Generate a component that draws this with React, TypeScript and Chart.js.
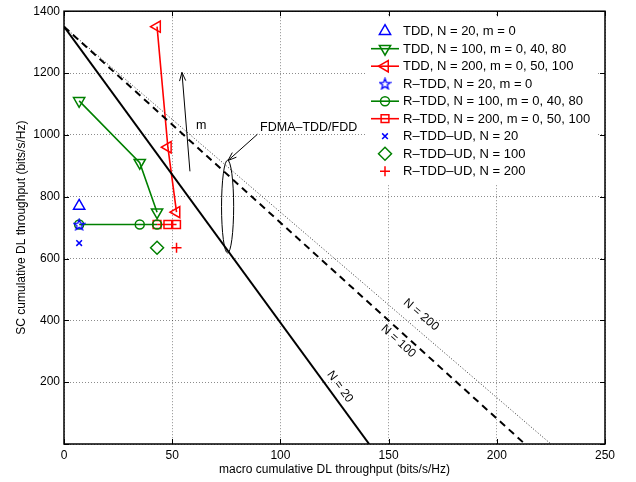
import React, { useEffect, useRef } from 'react';
import { Chart, registerables } from 'chart.js';
import { drawPoint } from 'chart.js/helpers';

Chart.register(...registerables);

const FONT = '"Liberation Sans", Arial, Helvetica, sans-serif';

// ---- axes ----
const xTicks = [0, 50, 100, 150, 200, 250];
const yTicks = [0, 200, 400, 600, 800, 1000, 1200, 1400];
const xTitle = 'macro cumulative DL throughput (bits/s/Hz)';
const yTitle = 'SC cumulative DL throughput (bits/s/Hz)';

// ---- FDMA-TDD/FDD reference lines (macro, SC) ----
const fdmaN20X = [0, 141];
const fdmaN20Y = [1350, 0];
const fdmaN100X = [0, 213];
const fdmaN100Y = [1350, 0];
const fdmaN200X = [0, 225];
const fdmaN200Y = [1350, 0];

// ---- TDD ----
const tddN20X = [7];
const tddN20Y = [770];
const tddN100X = [7, 35, 43];
const tddN100Y = [1110, 910, 750];
const tddN200X = [43, 48, 52];
const tddN200Y = [1350, 960, 750];

// ---- R-TDD ----
const rtddN20X = [7];
const rtddN20Y = [710];
const rtddN100X = [7, 35, 43];
const rtddN100Y = [710, 710, 710];
const rtddN200X = [43, 48, 52];
const rtddN200Y = [710, 710, 710];

// ---- R-TDD-UD ----
const rtddUdN20X = [7];
const rtddUdN20Y = [650];
const rtddUdN100X = [43];
const rtddUdN100Y = [635];
const rtddUdN200X = [52];
const rtddUdN200Y = [635];

const legendLabels = [
  'TDD, N = 20, m = 0',
  'TDD, N = 100, m = 0, 40, 80',
  'TDD, N = 200, m = 0, 50, 100',
  'R\u2013TDD, N = 20, m = 0',
  'R\u2013TDD, N = 100, m = 0, 40, 80',
  'R\u2013TDD, N = 200, m = 0, 50, 100',
  'R\u2013TDD\u2013UD, N = 20',
  'R\u2013TDD\u2013UD, N = 100',
  'R\u2013TDD\u2013UD, N = 200',
];

const lineLabels = ['N = 20', 'N = 100', 'N = 200'];
const annotationM = 'm';
const annotationFdma = 'FDMA\u2013TDD/FDD';

const BLUE = '#0000ff';
const GREEN = '#008000';
const RED = '#ff0000';

function makeStar(color: string, size = 13) {
  const c = document.createElement('canvas');
  c.width = size;
  c.height = size;
  const ctx = c.getContext('2d')!;
  const cx = size / 2;
  const cy = size / 2 + 0.5;
  const R = size / 2 - 0.8;
  const r = R * 0.42;
  ctx.beginPath();
  for (let i = 0; i < 10; i++) {
    const a = -Math.PI / 2 + (i * Math.PI) / 5;
    const rad = i % 2 === 0 ? R : r;
    ctx.lineTo(cx + rad * Math.cos(a), cy + rad * Math.sin(a));
  }
  ctx.closePath();
  ctx.strokeStyle = color;
  ctx.lineWidth = 1.3;
  ctx.stroke();
  return c;
}

const pts = (xs: number[], ys: number[]) => xs.map((x, i) => ({ x, y: ys[i] }));

function series(
  label: string,
  xs: number[],
  ys: number[],
  color: string,
  pointStyle: any,
  rotation: number,
  radius: number,
  showLine: boolean
) {
  return {
    label,
    data: pts(xs, ys),
    borderColor: color,
    backgroundColor: 'rgba(0,0,0,0)',
    pointStyle,
    pointRotation: rotation,
    pointRadius: radius,
    pointHoverRadius: radius,
    pointBorderColor: color,
    pointBackgroundColor: 'rgba(0,0,0,0)',
    pointBorderWidth: 1.5,
    showLine,
    borderWidth: 1.6,
    inLegend: true,
  } as any;
}

function refLine(xs: number[], ys: number[], width: number, dash: number[], color: string) {
  return {
    label: '',
    data: pts(xs, ys),
    borderColor: color,
    borderWidth: width,
    borderDash: dash,
    pointRadius: 0,
    showLine: true,
    inLegend: false,
  } as any;
}

function arrow(ctx: CanvasRenderingContext2D, x0: number, y0: number, x1: number, y1: number, head = 9) {
  ctx.beginPath();
  ctx.moveTo(x0, y0);
  ctx.lineTo(x1, y1);
  const a = Math.atan2(y1 - y0, x1 - x0);
  const s = 0.35;
  ctx.moveTo(x1 - head * Math.cos(a - s), y1 - head * Math.sin(a - s));
  ctx.lineTo(x1, y1);
  ctx.lineTo(x1 - head * Math.cos(a + s), y1 - head * Math.sin(a + s));
  ctx.stroke();
}

const annotationsPlugin = {
  id: 'annotations',
  afterDatasetsDraw(chart: any) {
    const { ctx, chartArea } = chart;
    const xs = chart.scales.x;
    const ys = chart.scales.y;
    const px = (v: number) => xs.getPixelForValue(v);
    const py = (v: number) => ys.getPixelForValue(v);
    ctx.save();

    // inward ticks
    ctx.strokeStyle = '#000';
    ctx.lineWidth = 1;
    ctx.setLineDash([]);
    ctx.beginPath();
    xTicks.forEach((t) => {
      const x = Math.round(px(t)) + 0.5;
      ctx.moveTo(x, chartArea.bottom);
      ctx.lineTo(x, chartArea.bottom - 5);
      ctx.moveTo(x, chartArea.top);
      ctx.lineTo(x, chartArea.top + 5);
    });
    yTicks.forEach((t) => {
      const y = Math.round(py(t)) + 0.5;
      ctx.moveTo(chartArea.left, y);
      ctx.lineTo(chartArea.left + 5, y);
      ctx.moveTo(chartArea.right, y);
      ctx.lineTo(chartArea.right - 5, y);
    });
    ctx.stroke();

    // rotated labels on reference lines
    ctx.fillStyle = '#000';
    ctx.font = `12px ${FONT}`;
    ctx.textAlign = 'center';
    ctx.textBaseline = 'middle';
    const refs = [
      { xs: fdmaN20X, ys: fdmaN20Y, at: [127.5, 185] },
      { xs: fdmaN100X, ys: fdmaN100Y, at: [154.5, 332] },
      { xs: fdmaN200X, ys: fdmaN200Y, at: [165, 418] },
    ];
    refs.forEach((r, i) => {
      const ang = Math.atan2(py(r.ys[1]) - py(r.ys[0]), px(r.xs[1]) - px(r.xs[0]));
      ctx.save();
      ctx.translate(px(r.at[0]), py(r.at[1]));
      ctx.rotate(ang);
      ctx.fillText(lineLabels[i], 0, 0);
      ctx.restore();
    });

    // arrow "m"
    ctx.lineWidth = 1;
    ctx.strokeStyle = '#000';
    arrow(ctx, px(58.2), py(882), px(54.5), py(1202), 9);
    ctx.textAlign = 'left';
    ctx.font = `12.5px ${FONT}`;
    ctx.fillText(annotationM, px(61), py(1030));

    // ellipse
    const ex = px(75.6);
    const ey = py(768);
    const rx = Math.abs(px(75.6 + 2.8) - ex);
    const ry = Math.abs(py(768 + 150) - ey);
    ctx.beginPath();
    ctx.ellipse(ex, ey, rx, ry, 0, 0, Math.PI * 2);
    ctx.stroke();

    // FDMA label + arrow
    ctx.fillText(annotationFdma, px(90.6), py(1024));
    arrow(ctx, px(89.4), py(1002), px(75.8), py(917), 9);

    // frame
    ctx.lineWidth = 1.5;
    ctx.strokeRect(chartArea.left, chartArea.top, chartArea.right - chartArea.left, chartArea.bottom - chartArea.top);
    ctx.restore();
  },
  afterDraw(chart: any) {
    const { ctx, chartArea } = chart;
    const items = chart.data.datasets.filter((d: any) => d.inLegend);
    const boxRight = chartArea.right - 9;
    const boxLeft = boxRight - 230;
    const boxTop = chartArea.top + 6;
    const rowH = 17.5;
    const boxBottom = boxTop + 10 + rowH * items.length;
    ctx.save();
    ctx.fillStyle = '#fff';
    ctx.fillRect(boxLeft, boxTop, boxRight - boxLeft, boxBottom - boxTop);
    ctx.font = `13px ${FONT}`;
    ctx.textAlign = 'left';
    ctx.textBaseline = 'middle';
    items.forEach((d: any, i: number) => {
      const y = boxTop + 14 + i * rowH;
      const l0 = boxLeft + 5;
      const l1 = boxLeft + 33;
      const mx = (l0 + l1) / 2;
      ctx.setLineDash([]);
      if (d.showLine) {
        ctx.strokeStyle = d.borderColor;
        ctx.lineWidth = d.borderWidth;
        ctx.beginPath();
        ctx.moveTo(l0, y);
        ctx.lineTo(l1, y);
        ctx.stroke();
      }
      ctx.strokeStyle = d.pointBorderColor;
      ctx.fillStyle = 'rgba(0,0,0,0)';
      ctx.lineWidth = d.pointBorderWidth;
      drawPoint(ctx, { pointStyle: d.pointStyle, rotation: d.pointRotation, radius: d.pointRadius, borderWidth: d.pointBorderWidth } as any, mx, y);
      ctx.fillStyle = '#000';
      ctx.fillText(d.label, l1 + 4, y + 0.5);
    });
    ctx.restore();
  },
};

export default function App() {
  const ref = useRef<HTMLCanvasElement | null>(null);
  useEffect(() => {
    if (!ref.current) return;
    Chart.defaults.font.family = FONT;
    Chart.defaults.color = '#000';
    const star = makeStar(BLUE, 13);
    const datasets = [
      refLine(fdmaN20X, fdmaN20Y, 2, [], '#000'),
      refLine(fdmaN100X, fdmaN100Y, 2, [7, 5], '#000'),
      refLine(fdmaN200X, fdmaN200Y, 1, [1, 2], '#333'),
      series(legendLabels[0], tddN20X, tddN20Y, BLUE, 'triangle', 0, 6.5, false),
      series(legendLabels[1], tddN100X, tddN100Y, GREEN, 'triangle', 180, 6.5, true),
      series(legendLabels[2], tddN200X, tddN200Y, RED, 'triangle', 270, 6.5, true),
      series(legendLabels[3], rtddN20X, rtddN20Y, BLUE, star, 0, 6, false),
      series(legendLabels[4], rtddN100X, rtddN100Y, GREEN, 'circle', 0, 4.5, true),
      series(legendLabels[5], rtddN200X, rtddN200Y, RED, 'rect', 0, 5.5, true),
      series(legendLabels[6], rtddUdN20X, rtddUdN20Y, BLUE, 'crossRot', 0, 4, false),
      series(legendLabels[7], rtddUdN100X, rtddUdN100Y, GREEN, 'rectRot', 0, 6.5, false),
      series(legendLabels[8], rtddUdN200X, rtddUdN200Y, RED, 'cross', 0, 5, false),
    ];
    const chart = new Chart(ref.current, {
      type: 'scatter',
      data: { datasets },
      options: {
        animation: false,
        responsive: false,
        devicePixelRatio: 1,
        layout: { padding: { top: 6, right: 31, left: 0, bottom: 0 } },
        plugins: { legend: { display: false }, tooltip: { enabled: false } },
        scales: {
          x: {
            type: 'linear',
            min: xTicks[0],
            max: xTicks[xTicks.length - 1],
            afterBuildTicks: (s: any) => {
              s.ticks = xTicks.map((v) => ({ value: v }));
            },
            afterFit: (s: any) => {
              s.height = 38;
            },
            ticks: { font: { size: 12 }, padding: 4, maxRotation: 0, color: '#000' },
            grid: { color: 'rgba(0,0,0,0.45)', lineWidth: 1, drawTicks: false },
            border: { display: false, dash: [1, 2] },
            title: { display: true, text: xTitle, font: { size: 12 }, color: '#000', padding: { top: 0, bottom: 5 } },
          },
          y: {
            type: 'linear',
            min: yTicks[0],
            max: yTicks[yTicks.length - 1],
            afterBuildTicks: (s: any) => {
              s.ticks = yTicks.map((v) => ({ value: v }));
            },
            afterFit: (s: any) => {
              s.width = 64;
            },
            ticks: {
              font: { size: 12 },
              padding: 4,
              color: '#000',
              callback: (v: any) => (v === yTicks[0] ? '' : String(v)),
            },
            grid: { color: 'rgba(0,0,0,0.45)', lineWidth: 1, drawTicks: false },
            border: { display: false, dash: [1, 2] },
            title: { display: true, text: yTitle, font: { size: 12 }, color: '#000', padding: { top: 14, bottom: 0 } },
          },
        },
      },
      plugins: [annotationsPlugin],
    } as any);
    return () => chart.destroy();
  }, []);
  return (
    <div style={{ position: 'fixed', left: 0, top: 0, width: 636, height: 482, background: '#fff' }}>
      <canvas ref={ref} width={636} height={482} style={{ display: 'block' }} />
    </div>
  );
}
